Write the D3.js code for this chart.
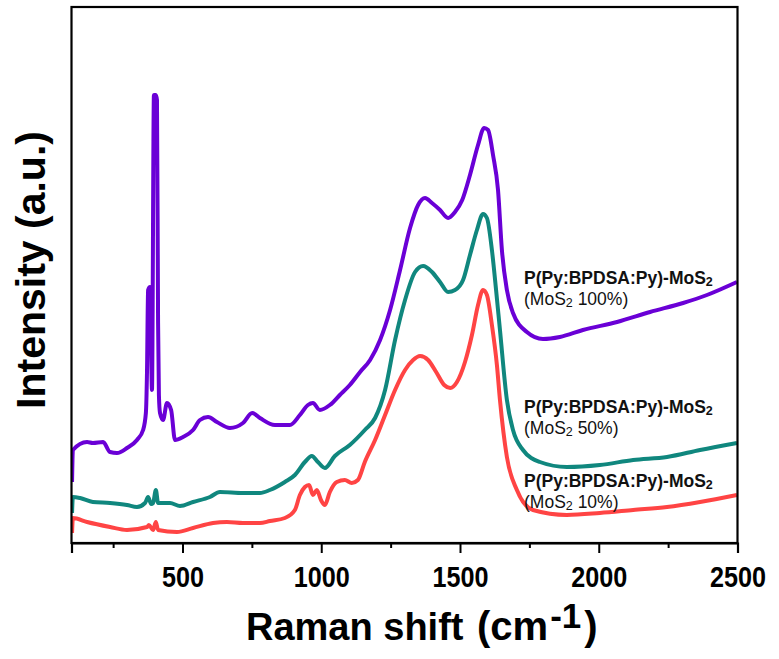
<!DOCTYPE html>
<html>
<head>
<meta charset="utf-8">
<script src="https://cdn.jsdelivr.net/npm/d3@7"></script>
<style>
  html, body { margin: 0; padding: 0; background: #fff; }
  svg { display: block; }
</style>
</head>
<body>
<svg id="chart" width="779" height="659"></svg>
<script>
// Raman spectra of P(Py:BPDSA:Py)-MoS2 composites, shift in cm^-1, intensity in a.u.
const shift100 = [102,105,156,177,214,239,264,300,336,358,368,372,376,383,390,397,404,408,412,415,419,430,444,459,473,502,538,563,592,624,671,718,751,779,833,887,923,952,970,995,1031,1067,1103,1140,1176,1212,1248,1284,1320,1349,1374,1399,1428,1457,1482,1508,1536,1565,1587,1601,1619,1637,1651,1669,1691,1741,1799,1860,1943,2066,2185,2304,2390,2498];
const int100   = [61,93,101,100,101,91,90,95,103,113,130,170,253,256,153,448,448,443,220,148,130,123,140,133,103,106,113,123,126,121,115,120,130,125,118,118,128,138,140,133,138,148,158,171,183,203,233,273,315,338,345,340,333,325,331,343,368,398,415,413,388,353,293,253,230,211,204,206,213,221,231,240,248,261];

const shift50 = [102,105,131,177,239,300,336,365,376,387,394,404,412,455,491,538,599,635,718,779,815,869,905,941,966,988,1013,1049,1103,1157,1194,1230,1266,1302,1338,1367,1399,1428,1457,1482,1511,1536,1561,1583,1597,1615,1630,1644,1669,1691,1727,1788,1885,2004,2124,2246,2365,2498];
const int50   = [30,46,45,41,40,38,36,40,46,39,40,53,40,40,37,41,46,51,50,50,53,61,68,81,87,81,75,87,98,113,125,153,203,243,271,277,271,261,251,253,263,288,313,329,325,293,253,213,143,113,93,81,76,78,83,86,93,100];

const shift10 = [102,105,156,239,300,372,379,394,404,412,480,538,610,660,718,779,815,869,905,923,941,956,970,984,999,1013,1031,1056,1085,1110,1132,1157,1194,1230,1266,1302,1331,1356,1385,1414,1443,1465,1489,1518,1543,1565,1583,1597,1615,1633,1644,1669,1705,1763,1885,2004,2124,2246,2365,2498];
const int10   = [10,25,21,16,13,16,18,13,21,13,11,15,20,21,20,20,22,25,33,48,56,58,48,53,43,38,51,61,63,60,63,81,103,128,153,173,183,187,183,171,158,155,161,181,208,238,253,248,218,178,143,86,53,33,28,30,33,36,41,48];

const seriesNames  = ["MoS2 100%", "MoS2 50%", "MoS2 10%"];
const seriesColors = ["#6a00d6", "#10877e", "#ff4444"];
const xTicks      = [500, 1000, 1500, 2000, 2500];
const xMinorTicks = [250, 750, 1250, 1750, 2250];

const svg = d3.select("#chart");
const plotL = 71.5, plotR = 737.5, plotT = 7, plotB = 543;

const x = d3.scaleLinear().domain([100, 2500]).range([plotL, plotR]);
const y = d3.scaleLinear().domain([0, 536]).range([plotB, plotT]);

svg.append("defs").append("clipPath").attr("id", "plot-clip")
  .append("rect").attr("x", plotL).attr("y", plotT)
  .attr("width", plotR - plotL).attr("height", plotB - plotT);

const line = d3.line()
  .x(d => x(d[0]))
  .y(d => y(d[1]))
  .curve(d3.curveMonotoneX);

const series = [
  d3.zip(shift10, int10),
  d3.zip(shift50, int50),
  d3.zip(shift100, int100)
];
const order = [2, 1, 0];

const g = svg.append("g").attr("clip-path", "url(#plot-clip)");
series.forEach((s, i) => {
  g.append("path")
    .datum(s)
    .attr("fill", "none")
    .attr("stroke", seriesColors[order[i]])
    .attr("stroke-width", 4)
    .attr("stroke-linejoin", "round")
    .attr("d", line);
});

// frame
svg.append("rect")
  .attr("x", plotL).attr("y", plotT)
  .attr("width", plotR - plotL).attr("height", plotB - plotT)
  .attr("fill", "none").attr("stroke", "#000").attr("stroke-width", 2.2);

// bottom axis with condensed bold digits
const axis = svg.append("g").attr("transform", `translate(0,${plotB})`)
  .call(d3.axisBottom(x).tickValues(xTicks).tickSize(10).tickPadding(0).tickFormat(d3.format("d")));
axis.select(".domain").attr("stroke-width", 2.2);
axis.selectAll(".tick line").attr("stroke-width", 2);
axis.selectAll(".tick text")
  .attr("y", 0).attr("dy", 0)
  .attr("transform", "translate(0,44) scale(0.84,1)")
  .attr("font-family", "'Liberation Sans', Arial, sans-serif")
  .attr("font-weight", "bold")
  .attr("font-size", 30)
  .attr("fill", "#000");
svg.append("g").attr("transform", `translate(0,${plotB})`)
  .call(d3.axisBottom(x).tickValues(xMinorTicks).tickSize(5).tickFormat(""))
  .call(a => a.select(".domain").remove())
  .selectAll(".tick line").attr("stroke-width", 2);

// axis titles
const xt = svg.append("text")
  .attr("x", 246).attr("y", 640)
  .attr("font-family", "'Liberation Sans', Arial, sans-serif")
  .attr("font-weight", "bold").attr("fill", "#000");
xt.append("tspan").attr("font-size", 38).text("Raman shift ");
xt.append("tspan").attr("font-size", 40).attr("dx", 3).text("(cm");
xt.append("tspan").attr("font-size", 35).attr("dx", 2).attr("dy", -12).text("-1");
xt.append("tspan").attr("font-size", 40).attr("dx", 3).attr("dy", 12).text(")");

svg.append("text")
  .attr("transform", "translate(45,270) rotate(-90)")
  .attr("text-anchor", "middle")
  .attr("font-family", "'Liberation Sans', Arial, sans-serif")
  .attr("font-weight", "bold").attr("font-size", 41).attr("fill", "#000")
  .text("Intensity (a.u.)");

// series labels, two lines each
const labelY = [284, 413, 487];
seriesNames.forEach((name, i) => {
  const pct = name.replace("MoS2 ", "");
  const t = svg.append("text")
    .attr("x", 524).attr("y", labelY[i])
    .attr("font-family", "'Liberation Sans', Arial, sans-serif")
    .attr("font-size", 17.5).attr("fill", "#111");
  t.append("tspan").attr("font-weight", "bold").text("P(Py:BPDSA:Py)-MoS");
  t.append("tspan").attr("font-weight", "bold").attr("font-size", 12.5).attr("dy", 2).text("2");
  t.append("tspan").attr("x", 524).attr("dy", 19).text("(MoS");
  t.append("tspan").attr("font-size", 12.5).attr("dy", 2).text("2");
  t.append("tspan").attr("dy", -2).text(" " + pct + ")");
});
</script>
</body>
</html>
